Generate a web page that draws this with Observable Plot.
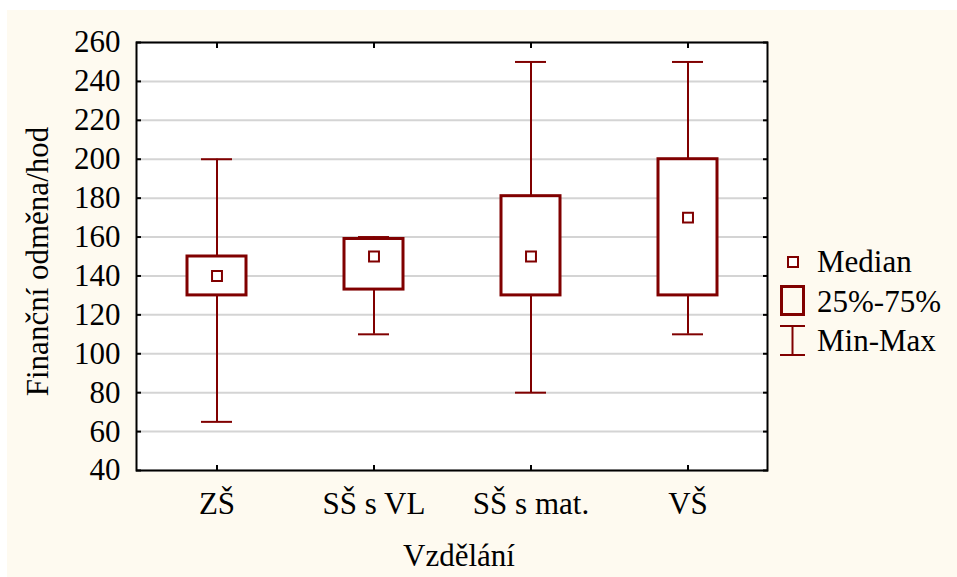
<!DOCTYPE html>
<html><head><meta charset="utf-8">
<script src="https://cdn.jsdelivr.net/npm/d3@7"></script>
<script src="https://cdn.jsdelivr.net/npm/@observablehq/plot@0.6"></script>
<style>
body{margin:0;background:#fff;}
#wrap{position:relative;width:957px;height:577px;overflow:hidden;}
#bg{position:absolute;left:7px;top:10px;right:0;bottom:0;background:#fefaf0;}
#chart{position:absolute;left:0;top:0;}
#legend{position:absolute;left:775px;top:245px;}
svg text{font-family:"Liberation Serif","Tinos","DejaVu Serif",serif;}
</style></head>
<body><div id="wrap"><div id="bg"></div><div id="chart"></div><div id="legend"></div></div>
<script>
const categories = ["ZŠ", "SŠ s VL", "SŠ s mat.", "VŠ"];
const minValues = [65, 110, 80, 110];
const q1Values = [130, 133, 130, 130];
const medianValues = [140, 150, 150, 170];
const q3Values = [150, 159, 181, 200];
const maxValues = [200, 160, 250, 250];
const yTicks = [40, 60, 80, 100, 120, 140, 160, 180, 200, 220, 240, 260];
const yLabel = "Finanční odměna/hod";
const xLabel = "Vzdělání";
const legendLabels = ["Median", "25%-75%", "Min-Max"];

const red = "#800000";
const font = '"Liberation Serif", "Tinos", "DejaVu Serif", serif';
const data = categories.map((c, i) => ({
  cat: c, min: minValues[i], q1: q1Values[i], median: medianValues[i], q3: q3Values[i], max: maxValues[i]
}));
const blank = () => "";

const chart = Plot.plot({
  width: 957, height: 577,
  marginLeft: 136, marginRight: 190, marginTop: 42, marginBottom: 107,
  style: {background: "transparent", fontFamily: font, fontSize: "31px", color: "black"},
  x: {type: "band", domain: categories, padding: 0, label: null},
  y: {domain: [40, 260], label: null},
  marks: [
    Plot.frame({fill: "white"}),
    Plot.gridY(yTicks, {stroke: "#d4d4d4", strokeOpacity: 1, strokeWidth: 2}),
    Plot.axisY(yTicks, {anchor: "left", tickSize: 0, tickPadding: 16, label: null, fontSize: 31}),
    Plot.axisY(yTicks, {anchor: "left", tickSize: 5, dx: 5, tickFormat: blank, label: null, strokeWidth: 2}),
    Plot.axisY(yTicks, {anchor: "right", tickSize: 5, dx: -5, tickFormat: blank, label: null, strokeWidth: 2}),
    Plot.axisX({anchor: "bottom", tickSize: 0, tickPadding: 21, label: null, fontSize: 31}),
    Plot.axisX({anchor: "bottom", tickSize: 5, dy: -5, tickFormat: blank, label: null, strokeWidth: 2}),
    Plot.axisX({anchor: "top", tickSize: 5, dy: 5, tickFormat: blank, label: null, strokeWidth: 2}),
    Plot.ruleX(data, {x: "cat", y1: "min", y2: "max", stroke: red, strokeWidth: 2}),
    Plot.barY(data, {x: "cat", y1: "q1", y2: "q3", fill: "white", stroke: red, strokeWidth: 3, insetLeft: 49, insetRight: 49}),
    Plot.tickY(data, {x: "cat", y: "min", stroke: red, strokeWidth: 2, insetLeft: 63, insetRight: 63}),
    Plot.tickY(data, {x: "cat", y: "max", stroke: red, strokeWidth: 2, insetLeft: 63, insetRight: 63}),
    Plot.dot(data, {x: "cat", y: "median", symbol: "square", r: 5.6, stroke: red, strokeWidth: 2, fill: "white"}),
    Plot.frame({stroke: "black", strokeWidth: 2}),
    Plot.text([yLabel], {frameAnchor: "left", textAnchor: "middle", rotate: -90, dx: -98, dy: 5, fontSize: 31, fill: "black"}),
    Plot.text([xLabel], {frameAnchor: "bottom", textAnchor: "middle", dx: 7, dy: 95, fontSize: 31, fill: "black"})
  ]
});
document.getElementById("chart").appendChild(chart);

// Legend
const ns = "http://www.w3.org/2000/svg";
const lg = document.createElementNS(ns, "svg");
lg.setAttribute("width", 182);
lg.setAttribute("height", 130);
lg.innerHTML = `
  <rect x="13" y="12" width="10" height="10" fill="white" stroke="${red}" stroke-width="2"/>
  <rect x="6.5" y="41.5" width="22" height="28" fill="none" stroke="${red}" stroke-width="3"/>
  <line x1="5" x2="30" y1="81" y2="81" stroke="${red}" stroke-width="2"/>
  <line x1="5" x2="30" y1="110" y2="110" stroke="${red}" stroke-width="2"/>
  <line x1="17.5" x2="17.5" y1="81" y2="110" stroke="${red}" stroke-width="2"/>
`;
const baselines = [27, 66.5, 105.5];
legendLabels.forEach((t, i) => {
  const tx = document.createElementNS(ns, "text");
  tx.setAttribute("x", 42);
  tx.setAttribute("y", baselines[i]);
  tx.setAttribute("font-size", 31);
  tx.setAttribute("fill", "black");
  tx.textContent = t;
  lg.appendChild(tx);
});
document.getElementById("legend").appendChild(lg);
</script>
</body></html>
